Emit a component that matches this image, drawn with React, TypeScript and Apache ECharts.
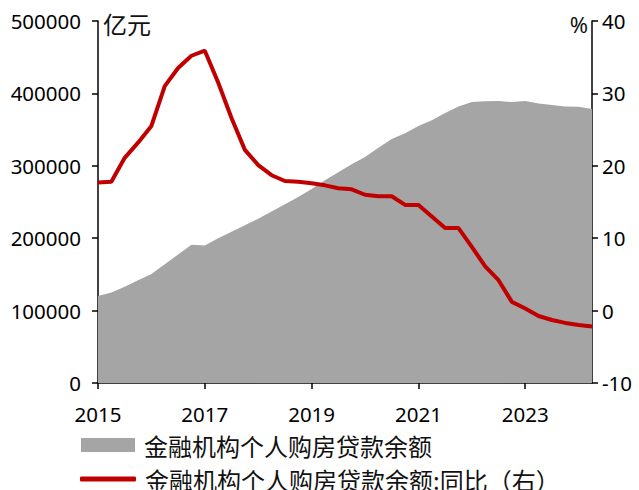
import React, { useEffect, useRef } from "react";
import * as echarts from "echarts";

const categories = [
  "2015Q1", "2015Q2", "2015Q3", "2015Q4",
  "2016Q1", "2016Q2", "2016Q3", "2016Q4",
  "2017Q1", "2017Q2", "2017Q3", "2017Q4",
  "2018Q1", "2018Q2", "2018Q3", "2018Q4",
  "2019Q1", "2019Q2", "2019Q3", "2019Q4",
  "2020Q1", "2020Q2", "2020Q3", "2020Q4",
  "2021Q1", "2021Q2", "2021Q3", "2021Q4",
  "2022Q1", "2022Q2", "2022Q3", "2022Q4",
  "2023Q1", "2023Q2", "2023Q3", "2023Q4",
  "2024Q1", "2024Q2",
];

const balance = [
  120000, 125000, 133000, 142000,
  150500, 164000, 177500, 191000,
  190000, 200000, 209000, 218000,
  227000, 237000, 247000, 257000,
  268000, 280000, 291000, 302000,
  312000, 325000, 337000, 345000,
  355000, 363000, 373000, 382000,
  388000, 389000, 389500, 388000,
  389500, 386000, 384000, 382000,
  381500, 378500,
];

const yoy = [
  17.7, 17.8, 21.1, 23.2,
  25.5, 31.0, 33.5, 35.2,
  35.9, 31.5, 26.6, 22.2,
  20.1, 18.7, 17.9, 17.8,
  17.6, 17.3, 16.9, 16.75,
  16.0, 15.8, 15.8, 14.6,
  14.6, 13.0, 11.4, 11.4,
  8.8, 6.1, 4.2, 1.2,
  0.3, -0.75, -1.3, -1.7,
  -2.0, -2.2,
];

const leftTicks = { min: 0, max: 500000, interval: 100000 };
const rightTicks = { min: -10, max: 40, interval: 10 };

const nameArea = "金融机构个人购房贷款余额";
const nameLine = "金融机构个人购房贷款余额:同比（右）";

const FONT = "'Noto Sans', 'Noto Sans CJK SC', sans-serif";
const CJK = "'Noto Sans CJK SC', 'Noto Sans', sans-serif";

export default function App() {
  const ref = useRef<HTMLDivElement>(null);
  useEffect(() => {
    if (!ref.current) return;
    const chart = echarts.init(ref.current, null, { renderer: "svg" });
    const axisLineStyle = { color: "#000", width: 1.5 };
    const legendText = {
      fontSize: 24,
      lineHeight: 24,
      fontFamily: CJK,
      color: "#111",
      padding: [0, 0, 0, 4],
    };
    chart.setOption({
      animation: false,
      backgroundColor: "#fff",
      grid: {
        left: 98,
        right: 47,
        top: 21,
        bottom: 107,
        containLabel: false,
        outerBoundsMode: "none",
      },
      legend: [
        {
          data: [{ name: nameArea, icon: "rect" }],
          left: 76,
          top: 428,
          itemWidth: 54,
          itemHeight: 14,
          textStyle: legendText,
          selectedMode: false,
        },
        {
          data: [{ name: nameLine, icon: "roundRect" }],
          left: 75,
          top: 462,
          itemWidth: 56,
          itemHeight: 5,
          textStyle: legendText,
          selectedMode: false,
        },
      ],
      xAxis: {
        type: "category",
        data: categories,
        boundaryGap: false,
        axisLine: { lineStyle: axisLineStyle },
        axisTick: { interval: 7, length: 6, lineStyle: axisLineStyle },
        axisLabel: {
          interval: 7,
          formatter: (v: string) => v.slice(0, 4),
          fontSize: 20.5,
          fontFamily: FONT,
          color: "#000",
          margin: 21,
        },
        splitLine: { show: false },
      },
      yAxis: [
        {
          type: "value",
          position: "left",
          ...leftTicks,
          axisLine: { show: true, lineStyle: axisLineStyle },
          axisTick: { show: true, length: 6, lineStyle: axisLineStyle },
          axisLabel: {
            fontSize: 20.5,
            fontFamily: FONT,
            color: "#000",
            margin: 17,
            formatter: (v: number) => String(v),
          },
          splitLine: { show: false },
        },
        {
          type: "value",
          position: "right",
          ...rightTicks,
          axisLine: { show: true, lineStyle: axisLineStyle },
          axisTick: { show: true, length: 6, lineStyle: axisLineStyle },
          axisLabel: {
            fontSize: 20.5,
            fontFamily: FONT,
            color: "#000",
            margin: 10,
            formatter: (v: number) => String(v),
          },
          splitLine: { show: false },
        },
      ],
      graphic: [
        {
          type: "text",
          left: 103,
          top: 11,
          style: { text: "亿元", fontSize: 24, fontFamily: CJK, fill: "#111" },
        },
        {
          type: "text",
          right: 51,
          top: 13,
          style: { text: "%", fontSize: 22, fontFamily: FONT, fill: "#111" },
        },
      ],
      series: [
        {
          name: nameArea,
          type: "line",
          yAxisIndex: 0,
          data: balance,
          symbol: "none",
          lineStyle: { width: 0, color: "#A5A5A5" },
          itemStyle: { color: "#A5A5A5" },
          areaStyle: { color: "#A5A5A5", opacity: 1 },
          z: 1,
        },
        {
          name: nameLine,
          type: "line",
          yAxisIndex: 1,
          data: yoy,
          symbol: "none",
          lineStyle: { width: 4, color: "#C00000" },
          itemStyle: { color: "#C00000" },
          z: 3,
        },
      ],
    });
    return () => chart.dispose();
  }, []);
  return (
    <div
      ref={ref}
      style={{ position: "fixed", left: 0, top: 0, width: 639, height: 490 }}
    />
  );
}
